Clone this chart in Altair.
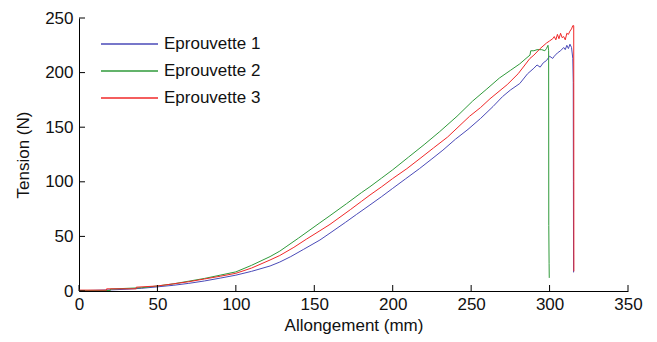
import altair as alt
import pandas as pd

# ---- data ----
series_names = ["Eprouvette 1", "Eprouvette 2", "Eprouvette 3"]
series_colors = ["#4a4ab8", "#2f9a3a", "#f02828"]

x1 = [0, 10, 20, 30, 40, 50, 60, 70, 80, 90, 100, 110, 121.8, 128, 135, 143, 153.6, 160, 170, 177,
      185.5, 193, 200, 208, 217, 225, 232, 240, 248, 256, 264, 270, 275, 281, 286, 290, 292, 294,
      296, 298, 300, 302, 303, 305, 307, 309, 310, 311, 312, 313, 314, 314.8, 315.1, 315.2, 315.3]
y1 = [0.3, 0.6, 1.0, 1.6, 2.5, 3.8, 5.2, 7.0, 9.2, 11.8, 14.5, 18, 22.9, 26.5, 31.5, 38, 46.7, 53, 63, 70.2,
      78.8, 86.5, 94, 102.5, 112, 121, 129, 139, 148, 158, 169, 178, 184, 190, 199, 204, 207, 205,
      209, 211, 215, 213, 215, 218, 220, 223, 221, 225, 222, 226, 223, 213, 191, 100, 17]

x2 = [0, 20, 20, 40, 50, 60, 70, 80, 90, 100, 110, 121.8, 128, 132, 140, 153.6, 160, 170.6, 180, 185.5,
      193, 200, 210, 220, 230, 241, 251, 260, 268, 275, 281, 285, 287.5, 288, 290, 292, 295, 297, 298,
      299, 299.4, 299.5, 299.7, 299.8]
y2 = [0.5, 0.5, 1.8, 3.0, 4.6, 6.5, 9.0, 11.5, 14.5, 17.5, 23.5, 31.5, 36.5, 40.5, 48.5, 62.5, 69, 80, 90, 95.5,
      103.5, 111, 122.5, 134, 146, 160, 174, 185, 195, 202, 208, 213, 216, 220, 220, 221, 221, 220, 222,
      225, 220, 60, 25, 12]

x3 = [0, 17.6, 17.6, 36.5, 36.5, 50, 60, 70, 80, 90, 100, 110, 121.8, 128, 137, 145, 153.6, 160, 173, 180,
      185.5, 193, 200, 209, 218, 226, 235, 249, 256, 262, 273, 280, 287.5, 290, 294, 298, 300, 302, 303,
      304, 305, 306, 307, 308, 309, 310, 311, 312, 313, 314, 314.8, 315.4, 315.5]
y3 = [0.8, 0.8, 2.0, 2.0, 3.5, 4.6, 6.5, 8.5, 11, 13.5, 16.2, 21, 28.4, 32.5, 40, 47.5, 55.2, 61, 74.5, 82,
      87.9, 95.5, 103, 112, 122, 131, 141, 160, 168, 176, 189, 199, 213, 216, 222, 227, 229, 231, 233,
      230, 235, 231, 236, 232, 233, 230, 236, 235, 238, 240, 243, 243, 18]

x_ticks = [0, 50, 100, 150, 200, 250, 300, 350]
y_ticks = [0, 50, 100, 150, 200, 250]

rows = []
for name, xs, ys in zip(series_names, [x1, x2, x3], [y1, y2, y3]):
    for i, (a, b) in enumerate(zip(xs, ys)):
        rows.append({"x": a, "y": b, "s": name, "i": i})
df = pd.DataFrame(rows)

W, H = 549, 273
FONT = "Liberation Sans"

xscale = alt.Scale(domain=[0, 350], nice=False, zero=False)
yscale = alt.Scale(domain=[0, 250], nice=False, zero=False)

xaxis = alt.Axis(values=x_ticks, grid=False, ticks=False, tickSize=0, labelFlush=False,
                 labelPadding=5, titlePadding=5, domainColor="black", domainWidth=1)
yaxis = alt.Axis(values=y_ticks, grid=False, ticks=False, tickSize=0, labelPadding=6,
                 titlePadding=12, domainColor="black", domainWidth=1)
XT = "Allongement (mm)"
YT = "Tension (N)"

lines = alt.Chart(df).mark_line(strokeWidth=1, clip=True).encode(
    x=alt.X("x:Q", scale=xscale, axis=xaxis, title=XT),
    y=alt.Y("y:Q", scale=yscale, axis=yaxis, title=YT),
    color=alt.Color("s:N", scale=alt.Scale(domain=series_names, range=series_colors),
                    legend=alt.Legend(title=None, orient="none", legendX=21, legendY=16,
                                      symbolType="stroke", symbolSize=3249,
                                      symbolStrokeWidth=1.5, clipHeight=20, rowPadding=7,
                                      labelFontSize=17, labelOffset=5, padding=0,
                                      labelFont=FONT, labelColor="#111")),
    order=alt.Order("i:Q"),
)

xt = alt.Chart(pd.DataFrame({"t": x_ticks})).mark_rule(color="black", strokeWidth=1).encode(
    x=alt.X("t:Q", scale=xscale, axis=xaxis, title=XT),
    y=alt.value(H), y2=alt.value(H - 6),
)
yt = alt.Chart(pd.DataFrame({"t": y_ticks})).mark_rule(color="black", strokeWidth=1).encode(
    y=alt.Y("t:Q", scale=yscale, axis=yaxis, title=YT),
    x=alt.value(0), x2=alt.value(6),
)

chart = alt.layer(lines, xt, yt).properties(
    width=W, height=H,
    autosize=alt.AutoSizeParams(type="none"),
    padding={"left": 71, "top": 10, "right": 21, "bottom": 51},
).configure_view(strokeWidth=0).configure_axis(
    labelFont=FONT, titleFont=FONT, labelFontSize=17, titleFontSize=17,
    titleFontWeight="normal", labelColor="#111", titleColor="#111",
)

chart.save("out.html", embed_options={"renderer": "svg", "actions": False})
